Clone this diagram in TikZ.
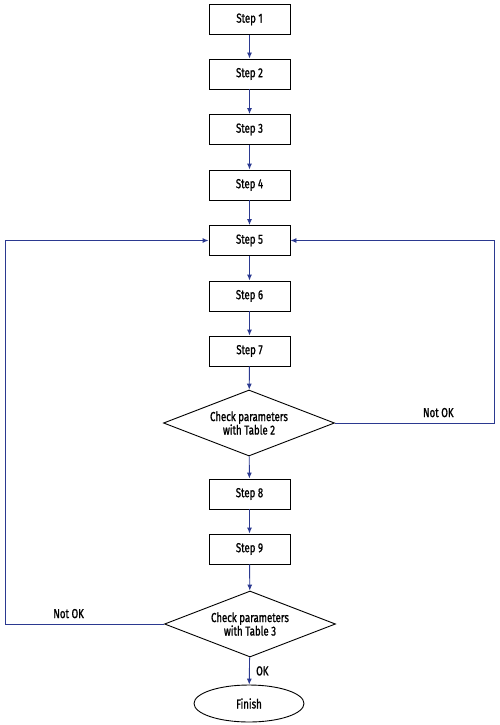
\documentclass[tikz,border=0pt]{standalone}
\usepackage{fontspec}
\setmainfont[FakeStretch=0.74,FakeBold=1.2]{Fira Sans}
\usetikzlibrary{shapes.geometric,arrows.meta}
\definecolor{flowblue}{HTML}{2B3990}
\begin{document}
\begin{tikzpicture}[x=1pt,y=-1pt,
  font=\fontsize{13}{13.5}\selectfont,
  stepbox/.style={draw=black,line width=0.9pt,minimum width=81pt,minimum height=30pt,inner sep=0pt},
  decision/.style={draw=black,line width=0.9pt,diamond,aspect=2.6,minimum width=171pt,minimum height=66pt,inner sep=0pt,align=center},
  endbox/.style={draw=black,line width=0.9pt,ellipse,minimum width=110pt,minimum height=37pt,inner sep=0pt},
  flow/.style={draw=flowblue,line width=0.9pt,-{Latex[length=6pt,width=5pt]}},
  lbl/.style={text=black}]
\useasboundingbox (0,0) rectangle (499,725);
\node[stepbox] (s1) at (249.5,19.5) {Step 1};
\node[stepbox] (s2) at (249.5,74) {Step 2};
\node[stepbox] (s3) at (249.5,129.5) {Step 3};
\node[stepbox] (s4) at (249.5,185) {Step 4};
\node[stepbox] (s5) at (249.5,240.5) {Step 5};
\node[stepbox] (s6) at (249.5,296) {Step 6};
\node[stepbox] (s7) at (249.5,351) {Step 7};
\node[decision] (d1) at (249,423) {Check parameters\\with Table 2};
\node[stepbox] (s8) at (249.5,494) {Step 8};
\node[stepbox] (s9) at (249.5,549) {Step 9};
\node[decision] (d2) at (250,624) {Check parameters\\with Table 3};
\node[endbox] (fin) at (249,703.5) {Finish};
\coordinate (r1) at (494,423);
\coordinate (l1) at (5,624);
\draw[flow] (s1) -- (s2);
\draw[flow] (s2) -- (s3);
\draw[flow] (s3) -- (s4);
\draw[flow] (s4) -- (s5);
\draw[flow] (s5) -- (s6);
\draw[flow] (s6) -- (s7);
\draw[flow] (s7) -- (d1);
\draw[flow] (d1) -- (s8);
\draw[flow] (s8) -- (s9);
\draw[flow] (s9) -- (d2);
\draw[flow] (d2) -- node[lbl,right=3pt] {OK} (fin);
\draw[flow] (d1.east) -- node[lbl,above=2pt,pos=0.65] {Not OK} (r1) |- (s5.east);
\draw[flow] (d2.west) -- node[lbl,above=2pt,pos=0.6] {Not OK} (l1) |- (s5.west);
\end{tikzpicture}
\end{document}
